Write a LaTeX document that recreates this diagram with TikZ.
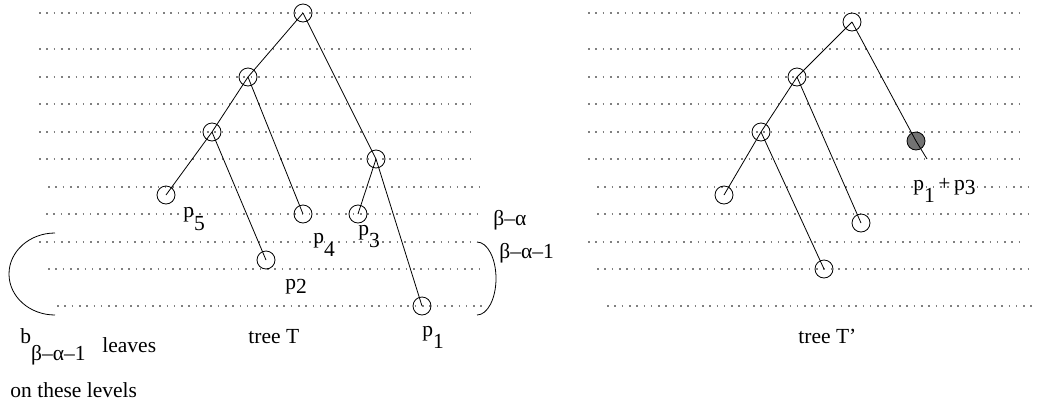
\documentclass[tikz,border=0pt]{standalone}
\usepackage{fontspec}
\setmainfont{Liberation Serif}
\newcommand{\lowsub}[2][-12pt]{\raisebox{#1}{#2}}

\begin{document}
\begin{tikzpicture}[x=1pt, y=-1pt, line width=0.8pt,
    font=\fontsize{21.5}{25}\selectfont,
    vert/.style={circle, draw, minimum size=18pt, inner sep=0pt},
    merged/.style={vert, fill=black!55},
    level/.style={line width=1.6pt, black!50, dash pattern=on 1.6pt off 5.7pt},
    lbl/.style={anchor=base west, inner sep=0pt}]
  \useasboundingbox (0,0) rectangle (1037,408);

  % levels, tree T
  \draw[level] (39,13)  -- (473,13);
  \draw[level] (39,49)  -- (473,49);
  \draw[level] (39,77)  -- (473,77);
  \draw[level] (39,104) -- (473,104);
  \draw[level] (39,132) -- (473,132);
  \draw[level] (39,159) -- (473,159);
  \draw[level] (48,187) -- (483,187);
  \draw[level] (46,214) -- (483,214);
  \draw[level] (39,242) -- (475,242);
  \draw[level] (48,269) -- (483,269);
  \draw[level] (57,306) -- (483,306);

  % levels, tree T'
  \draw[level] (588,13)  -- (1023,13);
  \draw[level] (588,49)  -- (1023,49);
  \draw[level] (588,77)  -- (1023,77);
  \draw[level] (588,104) -- (1023,104);
  \draw[level] (588,132) -- (1023,132);
  \draw[level] (588,159) -- (1023,159);
  \draw[level] (597,187) -- (1032,187);
  \draw[level] (597,214) -- (1033,214);
  \draw[level] (588,242) -- (1023,242);
  \draw[level] (597,269) -- (1033,269);
  \draw[level] (607,306) -- (1033,306);

  % tree T
  \node[vert] (troot) at (303,13) {};
  \node[vert] (tA)    at (248,77) {};
  \node[vert] (tB)    at (212,132) {};
  \node[vert] (tC)    at (376,159) {};
  \node[vert] (leaf5) at (166,195) {};
  \node[vert] (leaf4) at (303,214) {};
  \node[vert] (leaf3) at (358,214) {};
  \node[vert] (leaf2) at (266,260) {};
  \node[vert] (leaf1) at (422,306) {};

  \draw (troot.center) -- (tA.center);
  \draw (troot.center) -- (tC.center);
  \draw (tA.center) -- (tB.center);
  \draw (tA.center) -- (leaf4.center);
  \draw (tB.center) -- (leaf5.center);
  \draw (tB.center) -- (leaf2.center);
  \draw (tC.center) -- (leaf3.center);
  \draw (tC.center) -- (leaf1.center);

  \node[lbl] (lp5) at (183,217) {p\lowsub[-13pt]{5}};
  \node[lbl] (lp4) at (313,243) {p\lowsub[-13pt]{4}};
  \node[lbl] (lp3) at (358,235) {p\lowsub{3}};
  \node[lbl] (lp2) at (285,289) {p\lowsub[-4pt]{2}};
  \node[lbl] (lp1) at (422,336) {p\lowsub{1}};

  % tree T'
  \node[vert]   (sroot)  at (852,22) {};
  \node[vert]   (sA)     at (797,77) {};
  \node[vert]   (sB)     at (761,132) {};
  \node[merged] (smerge) at (916,141) {};
  \coordinate   (stail)  at (927,159);
  \node[vert]   (sleafa) at (724,195) {};
  \node[vert]   (sleafb) at (861,223) {};
  \node[vert]   (sleafc) at (824,269) {};

  \draw (sroot.center) -- (sA.center);
  \draw (sroot.center) -- (smerge.center) -- (stail);
  \draw (sA.center) -- (sB.center);
  \draw (sA.center) -- (sleafb.center);
  \draw (sB.center) -- (sleafa.center);
  \draw (sB.center) -- (sleafc.center);

  \node[lbl] (lp13) at (913,190) {p\lowsub{1}\,+\,p\lowsub[-4pt]{3}};

  % brackets
  \draw (55,233) arc[start angle=-90, end angle=-270, x radius=46, y radius=41];
  \draw (477,242) arc[start angle=-90, end angle=90, x radius=19, y radius=36.5];

  \node[lbl] (lba)  at (493,225) {β–α};
  \node[lbl] (lba1) at (499,258) {β–α–1};
  \node[lbl] (lcount)  at (20,343)  {b\lowsub[-17pt]{β–α–1}};
  \node[lbl] (lleaves) at (102,352) {leaves};
  \node[lbl] (llevels) at (10,397)  {on these levels};

  \node[lbl] (ltree)  at (248,343) {tree T};
  \node[lbl] (ltree2) at (798,343) {tree T’};
\end{tikzpicture}
\end{document}
